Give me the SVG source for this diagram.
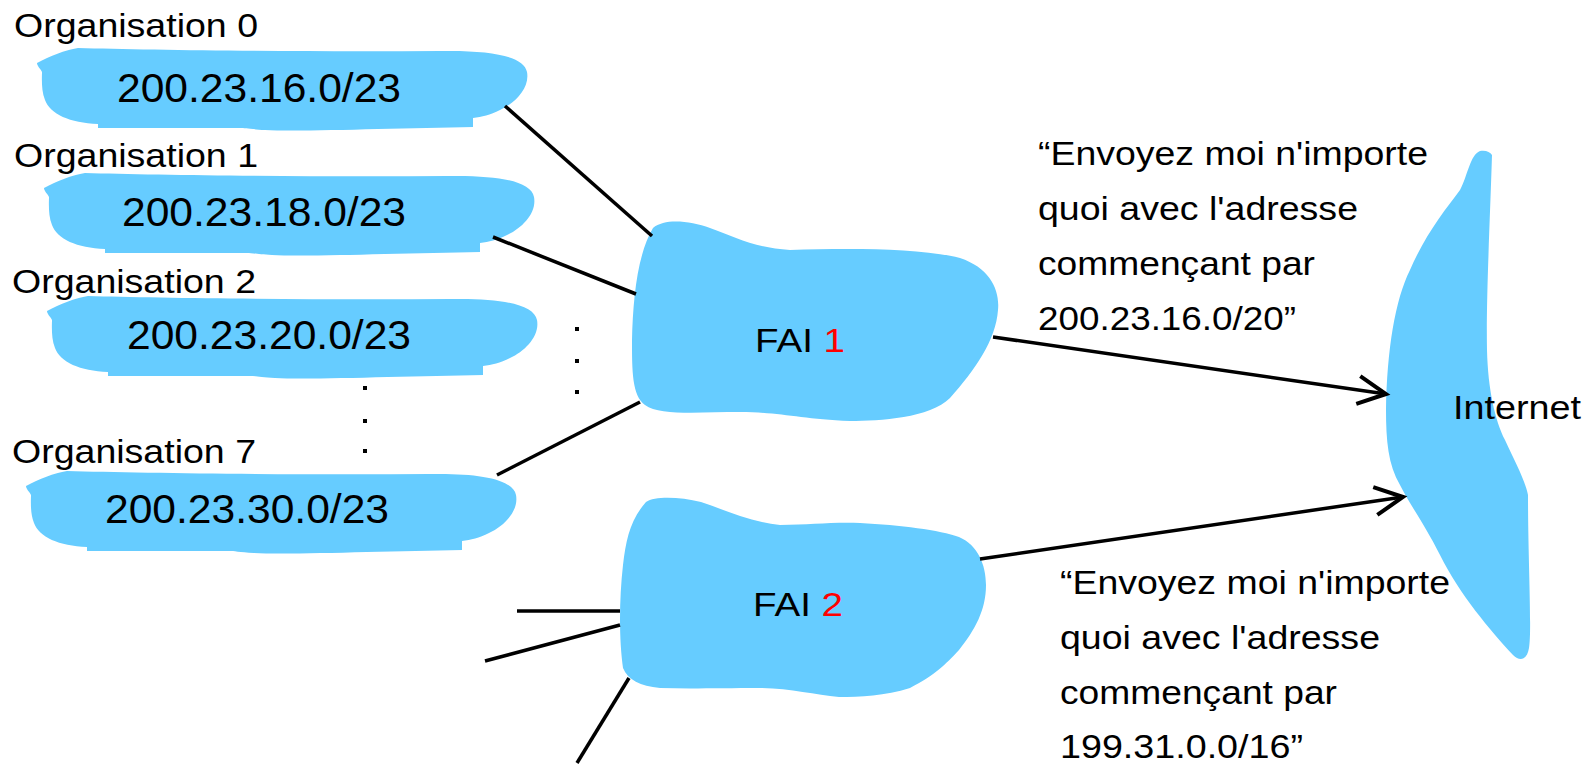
<svg xmlns="http://www.w3.org/2000/svg" xmlns:xlink="http://www.w3.org/1999/xlink" width="1591" height="764" viewBox="0 0 1591 764">
<style>
.blob{fill:#66CCFF;stroke:none}
.t{font-family:"Liberation Sans",Arial,sans-serif;fill:#000}
.lbl{font-size:34px}
.ip{font-size:40px}
.q{font-size:34px}
.red{fill:#FF0000}
.ln{stroke:#000;stroke-width:3.5;fill:none}
.dot{fill:#000}
</style>
<defs>
<path id="orgblob" d="M 37,63 C 50,56 65,50 78,48 C 150,50 300,52 440,51 C 490,50 524,56 527,72 C 530,88 515,103 500,110 C 490,115 482,117 473,118 L 473,127 C 400,128 300,132 265,130 C 250,129 245,128 240,128 L 98,128 L 98,124 C 70,123 50,114 45,100 C 41,90 42,78 42,72 C 40,68 37,66 37,63 Z"/>
<marker id="arr" markerUnits="userSpaceOnUse" markerWidth="40" markerHeight="40" viewBox="-34 -20 40 40" refX="0" refY="0" orient="auto">
<path d="M -28,-14 L 0,0 L -28,14" fill="none" stroke="#000" stroke-width="4"/>
</marker>
</defs>
<rect width="1591" height="764" fill="#fff"/>

<g id="org0">
<use xlink:href="#orgblob" class="blob"/>
<text class="t lbl" x="14" y="37" textLength="244" lengthAdjust="spacingAndGlyphs">Organisation 0</text>
<text class="t ip" x="117" y="102" textLength="284" lengthAdjust="spacingAndGlyphs">200.23.16.0/23</text>
</g>
<g id="org1">
<use xlink:href="#orgblob" class="blob" transform="translate(7,125)"/>
<text class="t lbl" x="14" y="167" textLength="244" lengthAdjust="spacingAndGlyphs">Organisation 1</text>
<text class="t ip" x="122" y="226" textLength="284" lengthAdjust="spacingAndGlyphs">200.23.18.0/23</text>
</g>
<g id="org2">
<use xlink:href="#orgblob" class="blob" transform="translate(10,248)"/>
<text class="t lbl" x="12" y="293" textLength="244" lengthAdjust="spacingAndGlyphs">Organisation 2</text>
<text class="t ip" x="127" y="349" textLength="284" lengthAdjust="spacingAndGlyphs">200.23.20.0/23</text>
</g>
<g id="org7">
<use xlink:href="#orgblob" class="blob" transform="translate(-11,423)"/>
<text class="t lbl" x="12" y="463" textLength="244" lengthAdjust="spacingAndGlyphs">Organisation 7</text>
<text class="t ip" x="105" y="523" textLength="284" lengthAdjust="spacingAndGlyphs">200.23.30.0/23</text>
</g>

<g id="dots-org">
<rect class="dot" x="363" y="386" width="4" height="4"/>
<rect class="dot" x="363" y="419" width="4" height="4"/>
<rect class="dot" x="363" y="449" width="4" height="4"/>
</g>
<g id="dots-fai">
<rect class="dot" x="575" y="327" width="4" height="4"/>
<rect class="dot" x="575" y="359" width="4" height="4"/>
<rect class="dot" x="575" y="390" width="4" height="4"/>
</g>

<g id="fai1">
<path class="blob" d="M 653,228 C 665,218 690,221 710,228 C 735,237 755,248 790,250 C 850,248 920,248 960,258 C 990,268 1000,290 998,310 C 996,340 975,370 950,398 C 930,418 880,421 850,421 C 800,419 780,412 740,412 C 700,412 660,416 645,405 C 632,396 632,370 632,340 C 633,300 637,255 653,228 Z"/>
<text class="t lbl" x="755" y="352" font-size="35" textLength="90" lengthAdjust="spacingAndGlyphs">FAI <tspan class="red">1</tspan></text>
</g>

<g id="fai2">
<path class="blob" d="M 646,502 C 655,496 680,497 701,502 C 725,510 750,522 780,525 C 810,525 830,522 860,523 C 900,525 940,530 959,537 C 978,545 986,565 986,585 C 986,610 975,630 959,650 C 945,665 935,675 910,688 C 885,696 860,697 839,697 C 815,695 790,688 760,688 C 720,688 690,689 660,688 C 640,686 628,680 623,668 C 619,640 619,600 623,565 C 626,540 630,520 646,502 Z"/>
<text class="t lbl" x="753" y="616" font-size="35" textLength="90" lengthAdjust="spacingAndGlyphs">FAI <tspan class="red">2</tspan></text>
</g>

<g id="internet">
<path class="blob" d="M 1480,151 C 1486,150 1490,152 1492,155 C 1490,220 1486,300 1487,350 C 1488,390 1495,420 1505,440 C 1515,462 1525,480 1528,495 C 1528,560 1532,630 1529,648 C 1527,660 1520,662 1513,655 C 1490,630 1460,595 1440,555 C 1425,525 1410,505 1400,485 C 1388,465 1386,440 1386,410 C 1387,350 1395,300 1410,270 C 1425,235 1445,210 1460,190 C 1468,175 1470,155 1480,151 Z"/>
<text class="t lbl" x="1453" y="419" textLength="128" lengthAdjust="spacingAndGlyphs">Internet</text>
</g>

<g id="connectors">
<line class="ln" x1="505" y1="106" x2="652" y2="236"/>
<line class="ln" x1="493" y1="237" x2="636" y2="294"/>
<line class="ln" x1="497" y1="475" x2="640" y2="402"/>
<line class="ln" x1="993" y1="337" x2="1386" y2="394" marker-end="url(#arr)"/>
<line class="ln" x1="980" y1="559" x2="1403" y2="497" marker-end="url(#arr)"/>
<line class="ln" x1="517" y1="611" x2="620" y2="611"/>
<line class="ln" x1="485" y1="661" x2="620" y2="625"/>
<line class="ln" x1="577" y1="763" x2="629" y2="678"/>
</g>

<g id="msg1">
<text class="t q" x="1038" y="165" textLength="390" lengthAdjust="spacingAndGlyphs">“Envoyez moi n'importe</text>
<text class="t q" x="1038" y="220" textLength="320" lengthAdjust="spacingAndGlyphs">quoi avec l'adresse</text>
<text class="t q" x="1038" y="275" textLength="277" lengthAdjust="spacingAndGlyphs">commençant par</text>
<text class="t q" x="1038" y="330" textLength="258" lengthAdjust="spacingAndGlyphs">200.23.16.0/20”</text>
</g>
<g id="msg2">
<text class="t q" x="1060" y="594" textLength="390" lengthAdjust="spacingAndGlyphs">“Envoyez moi n'importe</text>
<text class="t q" x="1060" y="649" textLength="320" lengthAdjust="spacingAndGlyphs">quoi avec l'adresse</text>
<text class="t q" x="1060" y="704" textLength="277" lengthAdjust="spacingAndGlyphs">commençant par</text>
<text class="t q" x="1060" y="758" textLength="243" lengthAdjust="spacingAndGlyphs">199.31.0.0/16”</text>
</g>
</svg>
